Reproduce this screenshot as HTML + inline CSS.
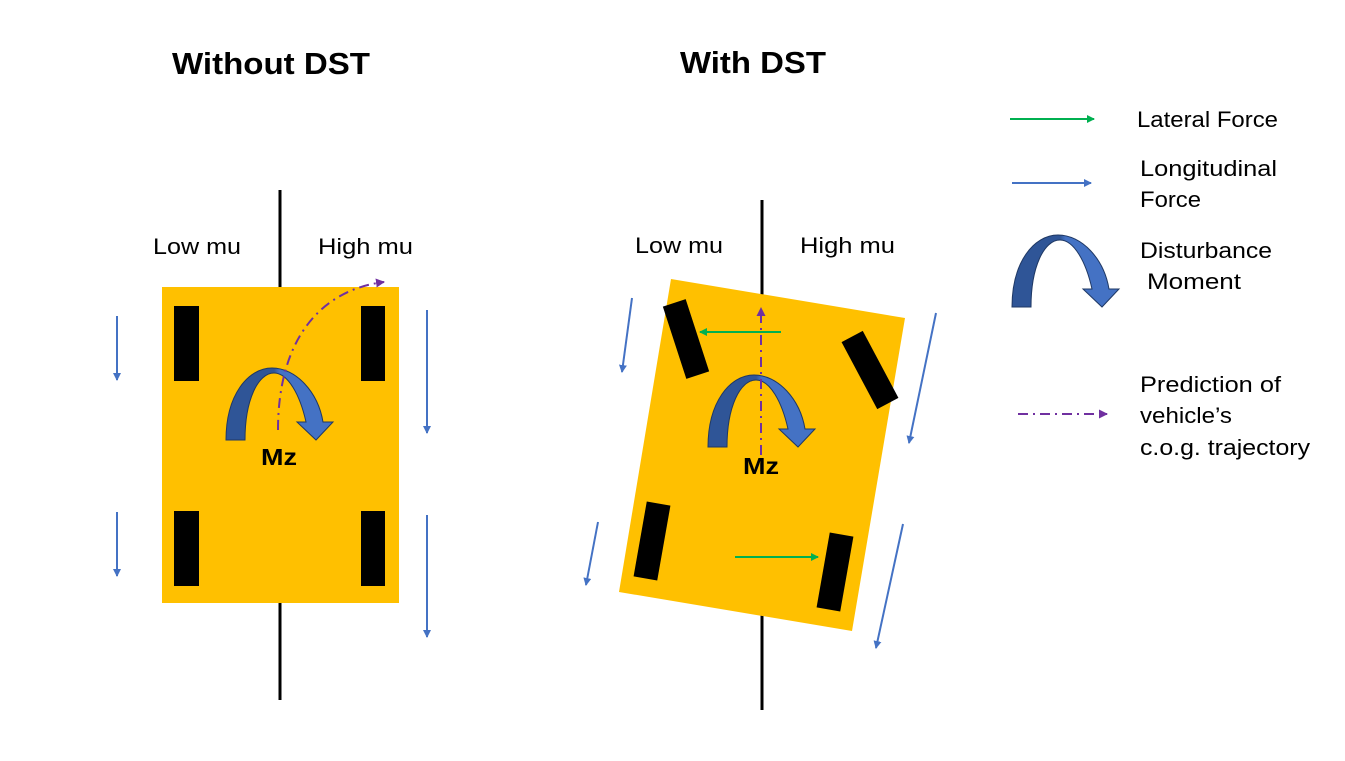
<!DOCTYPE html>
<html><head><meta charset="utf-8"><style>
body{margin:0;background:#fff}
text{font-family:"Liberation Sans","DejaVu Sans",sans-serif}
</style></head><body>
<svg width="1345" height="756" viewBox="0 0 1345 756" xmlns="http://www.w3.org/2000/svg">
<defs>
<marker id="bl" markerWidth="8" markerHeight="8" refX="7" refY="4" orient="auto" markerUnits="userSpaceOnUse"><path d="M0,0 L8,4 L0,8 Z" fill="#4472c4"/></marker>
<marker id="gr" markerWidth="8" markerHeight="8" refX="7" refY="4" orient="auto" markerUnits="userSpaceOnUse"><path d="M0,0 L8,4 L0,8 Z" fill="#00b050"/></marker>
<marker id="pu" markerWidth="9" markerHeight="9" refX="8" refY="4.5" orient="auto" markerUnits="userSpaceOnUse"><path d="M0,0 L9,4.5 L0,9 Z" fill="#7030a0"/></marker>
<linearGradient id="mg" x1="0" x2="1" y1="0" y2="0"><stop offset="0.45" stop-color="#2f5597"/><stop offset="0.5" stop-color="#4472c4"/></linearGradient>
<path id="mz" d="M226,440 C226,395 248,368 272,368 C296,368 318,392 323,422 L333,422 L316,440 L297,422 L306,422 C300,395 288,373 274,373 C258,373 245,400 245,440 Z" fill="url(#mg)" stroke="#1f3864" stroke-width="1"/>
</defs>
<text x="172" y="74" font-size="31" font-weight="bold" textLength="198" lengthAdjust="spacingAndGlyphs">Without DST</text>
<text x="680" y="73" font-size="31" font-weight="bold" textLength="146" lengthAdjust="spacingAndGlyphs">With DST</text>
<!-- left -->
<line x1="280" y1="190" x2="280" y2="700" stroke="#000" stroke-width="3"/>
<text x="153" y="254" font-size="22" textLength="88" lengthAdjust="spacingAndGlyphs">Low mu</text>
<text x="318" y="254" font-size="22" textLength="95" lengthAdjust="spacingAndGlyphs">High mu</text>
<rect x="162" y="287" width="237" height="316" fill="#ffc000"/>
<rect x="174" y="306" width="25" height="75" fill="#000"/>
<rect x="361" y="306" width="24" height="75" fill="#000"/>
<rect x="174" y="511" width="25" height="75" fill="#000"/>
<rect x="361" y="511" width="24" height="75" fill="#000"/>
<g stroke="#4472c4" stroke-width="2" marker-end="url(#bl)">
<line x1="117" y1="316" x2="117" y2="380"/><line x1="427" y1="310" x2="427" y2="433"/>
<line x1="117" y1="512" x2="117" y2="576"/><line x1="427" y1="515" x2="427" y2="637"/>
</g>
<use href="#mz"/>
<path d="M278,430 C278,340 320,290 384,282" fill="none" stroke="#7030a0" stroke-width="2" stroke-dasharray="10,5,2,5" marker-end="url(#pu)"/>
<text x="261" y="465" font-size="23" font-weight="bold" textLength="36" lengthAdjust="spacingAndGlyphs">Mz</text>
<!-- right -->
<line x1="762" y1="200" x2="762" y2="710" stroke="#000" stroke-width="3"/>
<text x="635" y="253" font-size="22" textLength="88" lengthAdjust="spacingAndGlyphs">Low mu</text>
<text x="800" y="253" font-size="22" textLength="95" lengthAdjust="spacingAndGlyphs">High mu</text>
<polygon points="671,279 905,318 852,631 619,592" fill="#ffc000"/>
<rect x="-12" y="-38" width="24" height="76" fill="#000" transform="translate(686,339) rotate(-18)"/>
<rect x="-12" y="-38" width="24" height="76" fill="#000" transform="translate(870,370) rotate(-28)"/>
<rect x="-12" y="-38" width="24" height="76" fill="#000" transform="translate(652,541) rotate(10)"/>
<rect x="-12" y="-38" width="24" height="76" fill="#000" transform="translate(835,572) rotate(10)"/>
<g stroke="#4472c4" stroke-width="2" marker-end="url(#bl)">
<line x1="632" y1="298" x2="622" y2="372"/><line x1="936" y1="313" x2="909" y2="443"/>
<line x1="598" y1="522" x2="586" y2="585"/><line x1="903" y1="524" x2="876" y2="648"/>
</g>
<use href="#mz" transform="translate(482,7)"/>
<line x1="761" y1="455" x2="761" y2="308" stroke="#7030a0" stroke-width="2" stroke-dasharray="10,5,2,5" marker-end="url(#pu)"/>
<g stroke="#00b050" stroke-width="2" marker-end="url(#gr)">
<line x1="781" y1="332" x2="700" y2="332"/><line x1="735" y1="557" x2="818" y2="557"/>
</g>
<text x="743" y="474" font-size="23" font-weight="bold" textLength="36" lengthAdjust="spacingAndGlyphs">Mz</text>
<!-- legend -->
<line x1="1010" y1="119" x2="1094" y2="119" stroke="#00b050" stroke-width="2" marker-end="url(#gr)"/>
<text x="1137" y="127" font-size="22" textLength="141" lengthAdjust="spacingAndGlyphs">Lateral Force</text>
<line x1="1012" y1="183" x2="1091" y2="183" stroke="#4472c4" stroke-width="2" marker-end="url(#bl)"/>
<text x="1140" y="176" font-size="22" textLength="137" lengthAdjust="spacingAndGlyphs">Longitudinal</text>
<text x="1140" y="207" font-size="22" textLength="61" lengthAdjust="spacingAndGlyphs">Force</text>
<use href="#mz" transform="translate(786,-133)"/>
<text x="1140" y="258" font-size="22" textLength="132" lengthAdjust="spacingAndGlyphs">Disturbance</text>
<text x="1147" y="289" font-size="22" textLength="94" lengthAdjust="spacingAndGlyphs">Moment</text>
<line x1="1018" y1="414" x2="1107" y2="414" stroke="#7030a0" stroke-width="2" stroke-dasharray="10,5,2,5" marker-end="url(#pu)"/>
<text x="1140" y="392" font-size="22" textLength="141" lengthAdjust="spacingAndGlyphs">Prediction of</text>
<text x="1140" y="423" font-size="22" textLength="92" lengthAdjust="spacingAndGlyphs">vehicle’s</text>
<text x="1140" y="455" font-size="22" textLength="170" lengthAdjust="spacingAndGlyphs">c.o.g. trajectory</text>
</svg>
</body></html>
